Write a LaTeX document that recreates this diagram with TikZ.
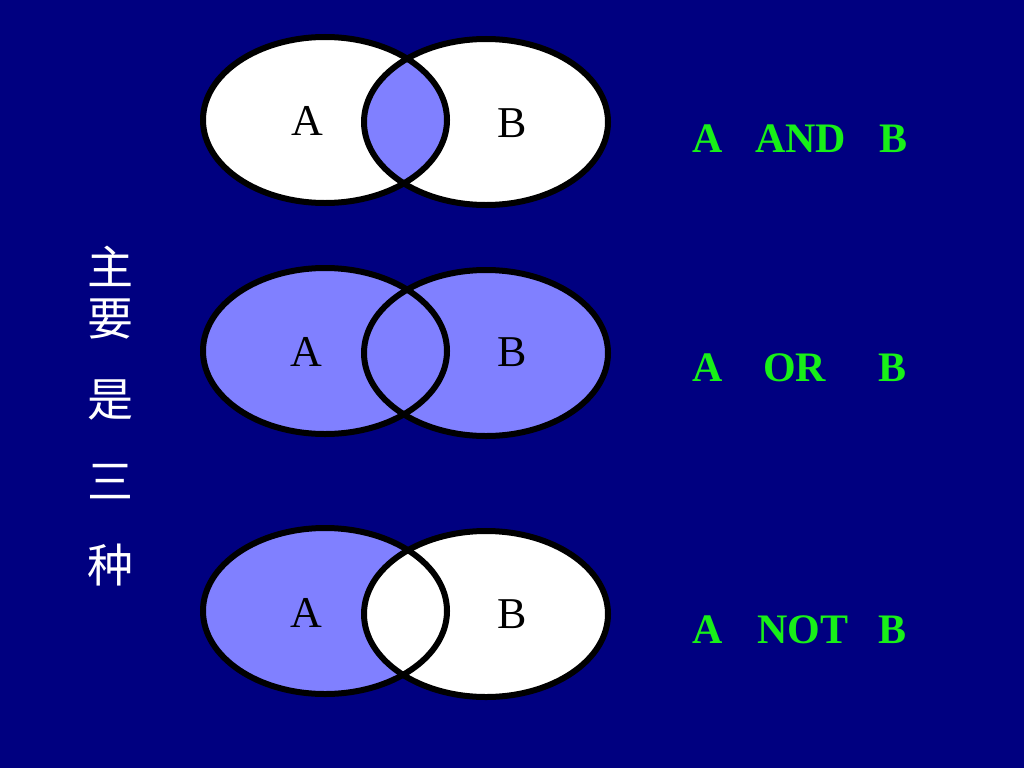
\documentclass[tikz,border=0pt]{standalone}
\usepackage{fontspec}
\setmainfont{Liberation Serif}
\newfontfamily\cjk{Noto Sans CJK SC}
\definecolor{slidebg}{RGB}{0,0,128}
\definecolor{lilac}{RGB}{128,128,255}
\definecolor{opgreen}{RGB}{24,240,24}
\tikzset{
  set/.style={draw=black, line width=6pt},
  lbl/.style={inner sep=0pt, font=\fontsize{44}{44}\selectfont},
  op/.style={inner sep=0pt, anchor=base west, text=opgreen, font=\fontsize{42}{42}\selectfont\bfseries},
  zh/.style={inner sep=0pt, text=white, font=\fontsize{46}{46}\selectfont\cjk}
}
\begin{document}
\begin{tikzpicture}[x=1pt,y=-1pt]
  \fill[slidebg] (0,0) rectangle (1024,768);
  \useasboundingbox (0,0) rectangle (1024,768);

  % A AND B
  \fill[white] (325,120) ellipse (122 and 83);
  \fill[white] (486,122) ellipse (122 and 83);
  \begin{scope}
    \clip (325,120) ellipse (122 and 83);
    \fill[lilac] (486,122) ellipse (122 and 83);
  \end{scope}
  \draw[set] (325,120) ellipse (122 and 83);
  \draw[set] (486,122) ellipse (122 and 83);
  \node[lbl] (a1) at (307,121) {A};
  \node[lbl] (b1) at (512,123) {B};
  \node[op] (opa1) at (692,152) {A};
  \node[op] (and) at (755,152) {AND};
  \node[op] (opb1) at (879,152) {B};

  % A OR B
  \fill[lilac] (325,351) ellipse (122 and 83);
  \fill[lilac] (486,353) ellipse (122 and 83);
  \draw[set] (325,351) ellipse (122 and 83);
  \draw[set] (486,353) ellipse (122 and 83);
  \node[lbl] (a2) at (306,352) {A};
  \node[lbl] (b2) at (512,352) {B};
  \node[op] (opa2) at (692,381) {A};
  \node[op] (or) at (763,381) {OR};
  \node[op] (opb2) at (878,381) {B};

  % A NOT B
  \fill[lilac] (325,611) ellipse (122 and 83);
  \fill[white] (486,614) ellipse (122 and 83);
  \draw[set] (325,611) ellipse (122 and 83);
  \draw[set] (486,614) ellipse (122 and 83);
  \node[lbl] (a3) at (306,613) {A};
  \node[lbl] (b3) at (512,614) {B};
  \node[op] (opa3) at (692,643) {A};
  \node[op] (not) at (757,643) {NOT};
  \node[op] (opb3) at (878,643) {B};

  % side title
  \foreach \ch/\y in {主/266, 要/319, 是/400, 三/482, 种/565}
    \node[zh] (zh\y) at (110,\y) {\ch};
\end{tikzpicture}
\end{document}
